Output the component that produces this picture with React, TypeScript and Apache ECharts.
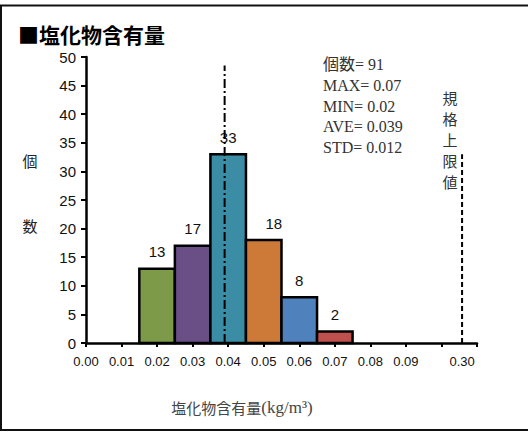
import React, { useEffect, useRef } from "react";
import * as echarts from "echarts";

// ---- data ----
const binCenters = [0.02, 0.03, 0.04, 0.05, 0.06, 0.07];
const counts = [13, 17, 33, 18, 8, 2];
const binWidth = 0.01;
const xTickLabels = ["0.00", "0.01", "0.02", "0.03", "0.04", "0.05", "0.06", "0.07", "0.08", "0.09", "0.30"];
const xTickValues = [0, 0.01, 0.02, 0.03, 0.04, 0.05, 0.06, 0.07, 0.08, 0.09, 0.1, 0.11];
const xLabelValues = [0, 0.01, 0.02, 0.03, 0.04, 0.05, 0.06, 0.07, 0.08, 0.09, 0.1058];
const average = 0.039;
const averageLineTop = 48.5;
const limitAxisPos = 0.1058; // 0.30 shown after the axis gap
const limitLineTop = 33;
const statsLines = ["個数= 91", "MAX= 0.07", "MIN= 0.02", "AVE= 0.039", "STD= 0.012"];

// ---- styles ----
const barColors = ["#7D9A48", "#6A4F87", "#3A8DA4", "#CD7A38", "#4F81BD", "#C0504D"];
const labelDx = [0, 0, 0, 10, 0, 0];

export default function App() {
  const ref = useRef<HTMLDivElement>(null);
  useEffect(() => {
    if (!ref.current) return;
    const chart = echarts.init(ref.current, null, { renderer: "svg" });
    const sans = '"Noto Sans CJK JP", "Liberation Sans", sans-serif';
    const serif = '"Liberation Serif", "Noto Sans CJK JP", serif';
    const latin = '"Liberation Sans", sans-serif';
    const option: any = {
      animation: false,
      backgroundColor: "#fff",
      grid: { left: 86, right: 51, top: 57, bottom: 90 },
      xAxis: {
        type: "value",
        min: 0,
        max: 0.11,
        interval: 0.01,
        splitLine: { show: false },
        axisLine: { show: true, onZero: false, lineStyle: { color: "#000", width: 2.5 } },
        axisTick: { show: true, length: 4, customValues: xTickValues, lineStyle: { color: "#000", width: 2 } },
        axisLabel: {
          customValues: xLabelValues,
          margin: 12,
          color: "#111",
          fontSize: 13,
          fontWeight: 500,
          fontFamily: latin,
          formatter: (v: number) => {
            const i = xLabelValues.findIndex((x) => Math.abs(x - v) < 1e-6);
            return i >= 0 ? xTickLabels[i] : "";
          },
        },
      },
      yAxis: {
        type: "value",
        min: 0,
        max: 50,
        interval: 5,
        splitLine: { show: false },
        axisLine: { show: true, lineStyle: { color: "#000", width: 2.5 } },
        axisTick: { show: true, length: 5, lineStyle: { color: "#000", width: 2 } },
        axisLabel: { color: "#111", fontSize: 15, margin: 10, fontFamily: latin },
      },
      series: [
        {
          type: "custom",
          data: binCenters.map((c, i) => [c, counts[i]]),
          renderItem: (params: any, api: any) => {
            const x = api.value(0);
            const y = api.value(1);
            const i = params.dataIndex;
            const p0 = api.coord([x - binWidth / 2, y]);
            const p1 = api.coord([x + binWidth / 2, 0]);
            return {
              type: "group",
              children: [
                {
                  type: "rect",
                  shape: { x: p0[0], y: p0[1], width: p1[0] - p0[0], height: p1[1] - p0[1] },
                  style: { fill: barColors[i], stroke: "#000", lineWidth: 2.5 },
                },
                {
                  type: "text",
                  x: (p0[0] + p1[0]) / 2 + labelDx[i],
                  y: p0[1] - 17,
                  style: {
                    text: String(counts[i]),
                    fill: "#111",
                    fontSize: 15,
                    fontFamily: latin,
                    align: "center",
                    verticalAlign: "middle",
                  },
                },
              ],
            };
          },
          z: 2,
        },
        {
          type: "line",
          data: [
            [average, 0],
            [average, averageLineTop],
          ],
          symbol: "none",
          lineStyle: { color: "#000", width: 2, type: [9, 3, 2, 3] },
          z: 5,
        },
        {
          type: "line",
          data: [
            [limitAxisPos, 0],
            [limitAxisPos, limitLineTop],
          ],
          symbol: "none",
          lineStyle: { color: "#000", width: 2, type: [5, 3] },
          z: 5,
        },
      ],
      graphic: [
        {
          type: "rect",
          shape: { x: 1, y: 5.5, width: 540, height: 424.5 },
          style: { fill: "none", stroke: "#111", lineWidth: 2 },
          z: 0,
        },
        {
          type: "text",
          x: 18,
          y: 34,
          style: { text: "■塩化物含有量", fill: "#000", fontSize: 21, fontWeight: "bold", fontFamily: sans, verticalAlign: "middle" },
        },
        {
          type: "text",
          x: 30,
          y: 160,
          style: { text: "個", fill: "#222", fontSize: 15, fontFamily: sans, align: "center", verticalAlign: "middle" },
        },
        {
          type: "text",
          x: 30,
          y: 225,
          style: { text: "数", fill: "#222", fontSize: 15, fontFamily: sans, align: "center", verticalAlign: "middle" },
        },
        {
          type: "text",
          x: 323,
          y: 54,
          style: { text: statsLines.join("\n"), fill: "#333", fontSize: 16, lineHeight: 20.8, fontFamily: serif },
        },
        {
          type: "text",
          x: 450,
          y: 86.5,
          style: {
            text: "規格上限値".split("").join("\n"),
            fill: "#333",
            fontSize: 15,
            lineHeight: 21,
            fontFamily: sans,
            align: "center",
          },
        },
        {
          type: "text",
          x: 242,
          y: 407,
          style: {
            text: "{a|塩化物含有量}{b|(kg/m³)}",
            fill: "#444",
            fontFamily: serif,
            align: "center",
            verticalAlign: "middle",
            rich: {
              a: { fontSize: 15, fill: "#444", fontFamily: sans },
              b: { fontSize: 17, fill: "#444", fontFamily: serif },
            },
          },
        },
      ],
    };
    chart.setOption(option);
    return () => chart.dispose();
  }, []);
  return <div ref={ref} style={{ position: "fixed", left: 0, top: 0, width: 528, height: 433 }} />;
}
